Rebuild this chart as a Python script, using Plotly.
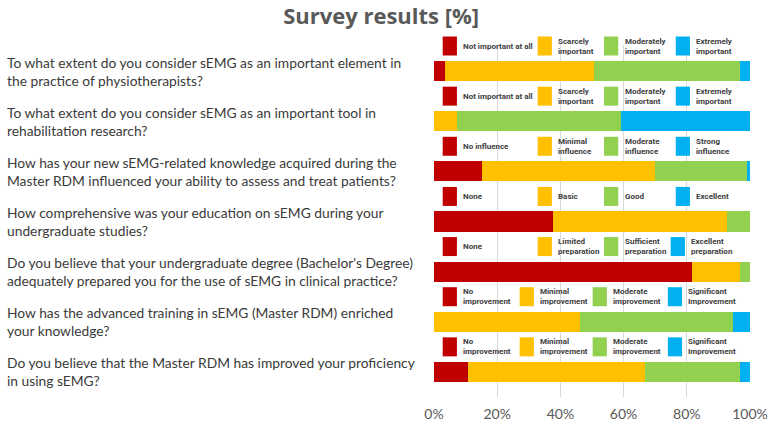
import plotly.graph_objects as go

# survey questions (top to bottom)
questions = [
    "To what extent do you consider sEMG as an important element in<br>the practice of physiotherapists?",
    "To what extent do you consider sEMG as an important tool in<br>rehabilitation research?",
    "How has your new sEMG-related knowledge acquired during the<br>Master RDM influenced your ability to assess and treat patients?",
    "How comprehensive was your education on sEMG during your<br>undergraduate studies?",
    "Do you believe that your undergraduate degree (Bachelor's Degree)<br>adequately prepared you for the use of sEMG in clinical practice?",
    "How has the advanced training in sEMG (Master RDM) enriched<br>your knowledge?",
    "Do you believe that the Master RDM has improved your proficiency<br>in using sEMG?",
]

# answer labels, one list of 4 per question
answers = [
    ["Not important at all", "Scarcely<br>important", "Moderately<br>important", "Extremely<br>important"],
    ["Not important at all", "Scarcely<br>important", "Moderately<br>important", "Extremely<br>important"],
    ["No influence", "Minimal<br>influence", "Moderate<br>influence", "Strong<br>influence"],
    ["None", "Basic", "Good", "Excellent"],
    ["None", "Limited<br>preparation", "Sufficient<br>preparation", "Excellent<br>preparation"],
    ["No<br>improvement", "Minimal<br>improvement", "Moderate<br>improvement", "Significant<br>Improvement"],
    ["No<br>improvement", "Minimal<br>improvement", "Moderate<br>improvement", "Significant<br>Improvement"],
]

# percentages per answer level (level 1 = lowest)
level1 = [3.4, 0.0, 15.2, 37.8, 81.8, 0.0, 10.9]
level2 = [47.1, 7.4, 54.7, 54.8, 15.0, 46.2, 55.9]
level3 = [46.2, 51.9, 29.1, 7.4, 3.2, 48.4, 29.9]
level4 = [3.3, 40.7, 1.0, 0.0, 0.0, 5.4, 3.3]

x_ticks = [0, 20, 40, 60, 80, 100]

colors = ["#C00000", "#FFC000", "#92D050", "#00B0F0"]

# where the little legend boxes sit in each row (in % of the axis)
box_left = [
    [2.75, 32.8, 53.8, 76.5],
    [2.75, 32.8, 53.8, 76.5],
    [2.75, 32.8, 53.8, 76.5],
    [2.75, 32.8, 53.8, 76.5],
    [2.75, 32.8, 53.8, 74.9],
    [2.75, 27.1, 50.2, 74.0],
    [2.75, 27.1, 50.2, 74.0],
]
box_w = 4.5
y_lo, y_hi = 6.5, -0.52

rows = list(range(len(questions)))

fig = go.Figure()
for vals, col in zip([level1, level2, level3, level4], colors):
    fig.add_trace(go.Bar(
        x=vals, y=rows, orientation='h', width=0.4,
        marker=dict(color=col, line=dict(width=0)),
        showlegend=False, hoverinfo='x'
    ))

shapes = []
annotations = []
for i in rows:
    # question on the left
    annotations.append(dict(
        x=(5 - 434) / 316, xref='paper', y=i, yref='y',
        text=questions[i], showarrow=False, xanchor='left', align='left',
        font=dict(family='Lato', size=13.8, color='#3a3a3a')
    ))
    # legend row above each bar
    yc = (y_lo - (i - 0.5)) / (y_lo - y_hi)
    for k in range(4):
        x0 = box_left[i][k]
        shapes.append(dict(
            type='rect', xref='x', yref='y domain',
            x0=x0, x1=x0 + box_w, y0=yc - 9.5 / 352, y1=yc + 9.5 / 352,
            fillcolor=colors[k], line=dict(width=0)
        ))
        annotations.append(dict(
            x=x0 + box_w + 1.4, xref='x', y=i - 0.5, yref='y',
            text=answers[i][k], showarrow=False, xanchor='left', align='left',
            font=dict(family='Roboto', size=8, color='#404040', weight='bold')
        ))

fig.update_layout(
    width=770, height=424,
    margin=dict(l=434, r=20, t=45, b=27),
    paper_bgcolor='white', plot_bgcolor='white',
    barmode='stack', bargap=0,
    title=dict(text='Survey results [%]', x=0.495, xanchor='center',
               y=1 - 16 / 424, yanchor='middle',
               font=dict(family='Open Sans', size=22, color='#595959', weight='bold')),
    xaxis=dict(range=[0, 100], tickvals=x_ticks, ticktext=[f'{t}%' for t in x_ticks],
               showgrid=True, gridcolor='#d9d9d9', gridwidth=1,
               zeroline=False, showline=False, ticks='', automargin=False,
               ticklabelstandoff=7,
               tickfont=dict(family='Lato', size=14, color='#595959')),
    yaxis=dict(range=[y_lo, y_hi], showticklabels=False, showgrid=False,
               zeroline=False, showline=False, ticks='', automargin=False),
    shapes=shapes, annotations=annotations,
)

fig.write_html("out.html", config={'displayModeBar': False},
               post_script="document.body.style.margin='0';")
